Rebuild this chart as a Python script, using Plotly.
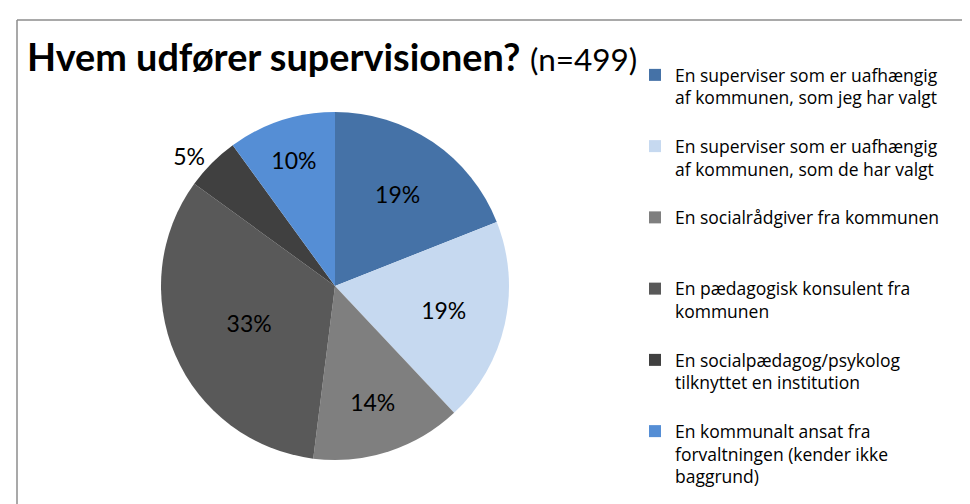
import plotly.graph_objects as go

W, H = 970, 504

labels = [
    "En superviser som er uafhængig<br>af kommunen, som jeg har valgt<br> ",
    "En superviser som er uafhængig<br>af kommunen, som de har valgt<br> ",
    "En socialrådgiver fra kommunen<br> <br> ",
    "En pædagogisk konsulent fra<br>kommunen<br> ",
    "En socialpædagog/psykolog<br>tilknyttet en institution<br> ",
    "En kommunalt ansat fra<br>forvaltningen (kender ikke<br>baggrund)",
]
values = [19, 19, 14, 33, 5, 10]
colors = ["#4572A7", "#C6D9F0", "#7F7F7F", "#595959", "#404040", "#558ED5"]
textpos = ["inside", "inside", "inside", "inside", "outside", "inside"]

font = "Lato, 'Open Sans', sans-serif"
lfont = "'Open Sans', Lato, sans-serif"

fig = go.Figure(go.Pie(
    labels=labels,
    values=values,
    sort=False,
    direction="clockwise",
    rotation=0,
    marker=dict(colors=colors, line=dict(width=0)),
    texttemplate="%{percent:.0%}",
    textposition=textpos,
    insidetextorientation="horizontal",
    textfont=dict(family=font, size=23, color="#000000"),
    domain=dict(x=[153 / W, 501 / W], y=[1 - 452 / H, 1 - 104 / H]),
    hoverinfo="label+percent",
))

fig.update_layout(
    width=W, height=H,
    margin=dict(l=0, r=0, t=0, b=0),
    paper_bgcolor="white",
    font=dict(family=font, color="#000000"),
    title=dict(
        text="<b>Hvem udfører supervisionen?</b> <span style='font-size:31.5px'>(n=499)</span>",
        x=19 / W, xanchor="left", xref="paper",
        y=1 - 50 / H, yanchor="middle", yref="paper",
        font=dict(family=font, size=37.8, color="#000000"),
    ),
    legend=dict(
        x=627 / W, xanchor="left",
        y=1 - 49 / H, yanchor="top",
        valign="top",
        font=dict(family=lfont, size=17.5, color="#000000"),
        bgcolor="rgba(0,0,0,0)",
        itemclick=False, itemdoubleclick=False,
    ),
    showlegend=True,
    shapes=[
        dict(type="line", xref="paper", yref="paper",
             x0=9 / W, x1=1, y0=1 - 12 / H, y1=1 - 12 / H,
             line=dict(color="#8C8C8C", width=1.5)),
        dict(type="line", xref="paper", yref="paper",
             x0=9 / W, x1=9 / W, y0=1 - 12 / H, y1=0,
             line=dict(color="#8C8C8C", width=1.5)),
    ],
)

fig.write_html("out.html")
